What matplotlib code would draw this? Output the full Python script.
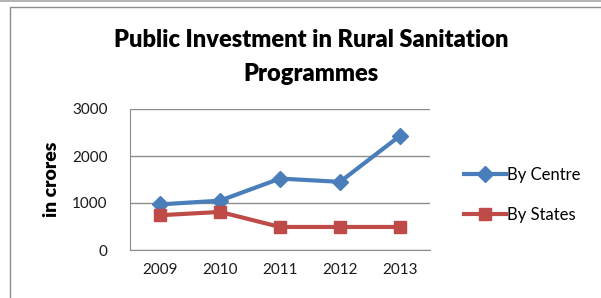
import matplotlib
matplotlib.use("Agg")
import matplotlib.pyplot as plt
from matplotlib.patches import Rectangle
from matplotlib.lines import Line2D

years = ["2009", "2010", "2011", "2012", "2013"]
by_centre = [970, 1050, 1520, 1450, 2430]
by_states = [740, 810, 490, 490, 490]
yticks = [0, 1000, 2000, 3000]

W, H = 601, 298
fig = plt.figure(figsize=(W / 100, H / 100), dpi=100)
fig.patch.set_facecolor("white")

# outer chart border
fig.add_artist(Line2D([0, 1], [1 - 1 / H, 1 - 1 / H], transform=fig.transFigure,
                      color="#a6a6a6", lw=1.2))
fig.add_artist(Rectangle((9.5 / W, -0.05), 1.2, 1 - 6.5 / H + 0.05, transform=fig.transFigure,
                         fill=False, edgecolor="#8c8c8c", lw=1.0))

ax = fig.add_axes([130 / W, 48 / H, 300 / W, 141 / H])
x = list(range(len(years)))
blue = "#4a7ebb"
red = "#be4b48"
ax.plot(x, by_centre, color=blue, lw=3, marker="D", markersize=8,
        markerfacecolor=blue, markeredgecolor=blue, label="By Centre", zorder=3)
ax.plot(x, by_states, color=red, lw=3, marker="s", markersize=9,
        markerfacecolor=red, markeredgecolor=red, label="By States", zorder=3)

ax.set_xlim(-0.5, len(years) - 0.5)
ax.set_ylim(0, 3000)
ax.set_yticks(yticks)
ax.set_xticks(x)
ax.set_xticklabels(years)
ax.grid(axis="y", color="#8c8c8c", lw=1)
ax.set_axisbelow(True)
for s in ["top", "right"]:
    ax.spines[s].set_visible(False)
ax.spines["left"].set_color("#8c8c8c")
ax.spines["bottom"].set_color("#8c8c8c")
ax.tick_params(axis="both", length=0, labelsize=11, colors="#1a1a1a")
ax.tick_params(axis="y", pad=16)
ax.tick_params(axis="x", pad=9)
for lab in ax.get_xticklabels() + ax.get_yticklabels():
    lab.set_family("Lato")

ax.set_ylabel("in crores", fontsize=14, fontweight="heavy", family="Lato", labelpad=9)

fig.text(311 / W, 1 - 47 / H, "Public Investment in Rural Sanitation", ha="center", va="baseline",
         fontsize=17, fontweight="heavy", family="Lato")
fig.text(311 / W, 1 - 81 / H, "Programmes", ha="center", va="baseline",
         fontsize=17, fontweight="heavy", family="Lato")

leg = fig.legend(loc="center left", bbox_to_anchor=(449 / W, 1 - 195 / H), frameon=False,
                 prop={"family": "Lato", "size": 12}, handlelength=2.5, handletextpad=0.1,
                 labelspacing=1.45)

fig.savefig("out.png", dpi=100, facecolor="white")
